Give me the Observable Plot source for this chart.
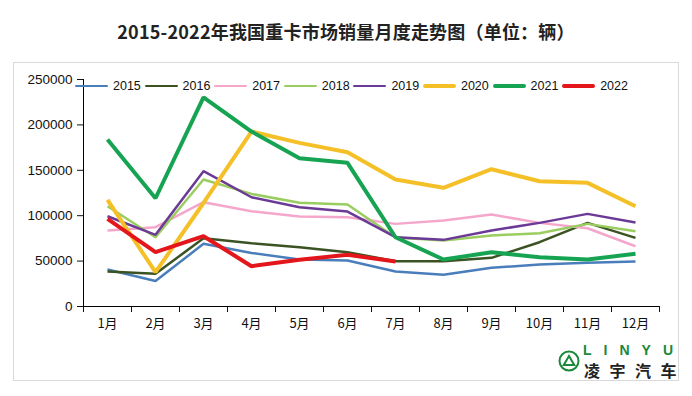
<!DOCTYPE html>
<html><head><meta charset="utf-8">
<script src="https://cdn.jsdelivr.net/npm/d3@7"></script>
<script src="https://cdn.jsdelivr.net/npm/@observablehq/plot@0.6"></script>
<style>
body{margin:0;background:#fff;width:692px;height:396px;overflow:hidden;font-family:"Liberation Sans","Noto Sans CJK SC",sans-serif;}
#title{height:62px;line-height:62px;text-align:center;font-family:"Noto Sans CJK SC",sans-serif;font-weight:bold;font-size:18px;color:#222;letter-spacing:0.2px;}
#wrap{position:relative;width:692px;height:334px;}
#frame{position:absolute;left:13px;top:0;width:664px;height:317px;border:1px solid #d9d9d9;box-sizing:content-box;}
#chart{position:absolute;left:0;top:0;}
#legend{position:absolute;left:75px;top:16px;height:16px;display:flex;}
.item{width:69.6px;display:flex;align-items:center;flex:none;}
.sw{width:33px;border-radius:2px;margin-right:5px;flex:none;}
.lb{font-size:12.5px;color:#111;font-family:"Liberation Sans",sans-serif;}
#logo{position:absolute;left:558px;top:282px;width:124px;height:36px;}
#logo .en{position:absolute;left:25px;top:-1px;font-family:"Liberation Sans",sans-serif;font-weight:bold;font-size:14px;letter-spacing:12px;color:#1a8a3a;line-height:14px;white-space:nowrap;}
#logo .cn{position:absolute;left:26px;top:18px;font-family:"Noto Sans CJK SC",sans-serif;font-weight:bold;font-size:16px;letter-spacing:9.5px;color:#222;line-height:16px;white-space:nowrap;}
#logo svg{position:absolute;left:0;top:6px;}
</style></head>
<body>
<div id="title">2015-2022年我国重卡市场销量月度走势图（单位：辆）</div>
<div id="wrap">
  <div id="frame"></div>
  <div id="chart"></div>
  <div id="legend"></div>
  <div id="logo">
    <svg width="22" height="22" viewBox="0 0 22 22"><circle cx="11" cy="11" r="9.5" fill="none" stroke="#1a8a3a" stroke-width="2"/><path d="M11 4 L18 16 L4 16 Z M11 8 L7.5 14 L14.5 14 Z" fill="#1a8a3a" fill-rule="evenodd"/></svg>
    <div class="en">LINYU</div>
    <div class="cn">凌宇汽车</div>
  </div>
</div>
<script>
const months = ["1月","2月","3月","4月","5月","6月","7月","8月","9月","10月","11月","12月"];
const years = ["2015","2016","2017","2018","2019","2020","2021","2022"];
const yTicks = [0, 50000, 100000, 150000, 200000, 250000];
const s2015 = [40700, 28000, 69000, 59000, 51700, 50600, 38500, 34900, 42600, 46200, 48100, 49500];
const s2016 = [38500, 36000, 75200, 69700, 65300, 59800, 49900, 49900, 53600, 70800, 92100, 75600];
const s2017 = [83700, 87300, 114900, 104900, 99100, 98400, 91000, 94700, 101300, 92100, 86200, 66400];
const s2018 = [110400, 76300, 139800, 124000, 114200, 112300, 76000, 72700, 78200, 80700, 91000, 82900];
const s2019 = [99400, 78900, 149000, 120300, 109300, 104600, 76300, 73400, 83700, 92100, 102000, 92500];
const s2020 = [117500, 37800, 114000, 192700, 180200, 169900, 139800, 130700, 151200, 138000, 136200, 110400];
const s2021 = [183900, 119200, 230400, 192700, 163300, 158200, 76300, 51700, 59800, 54300, 51700, 58000];
const s2022 = [96500, 59800, 77400, 44400, 51400, 56900, 49500];
const colors = ["#4a7ebb","#3b5323","#f4a7cb","#9acd5f","#6b3a96","#f5c027","#16a452","#e3161b"];
const widths = [2.5,2.5,2.5,2.5,2.5,4,4,4];

const series = [s2015,s2016,s2017,s2018,s2019,s2020,s2021,s2022];
const rows = [];
series.forEach((s, k) => s.forEach((v, i) => rows.push({year: years[k], m: i + 0.5, v})));

const lineMarks = years.map((yr, k) =>
  Plot.line(rows.filter(d => d.year === yr), {x: "m", y: "v", stroke: colors[k], strokeWidth: widths[k], strokeLinejoin: "miter", strokeLinecap: "butt"})
);

const chart = Plot.plot({
  width: 692, height: 334,
  marginTop: 17, marginBottom: 90, marginLeft: 83, marginRight: 33,
  style: {fontFamily: "Liberation Sans, Noto Sans CJK SC, sans-serif", fontSize: "13.5px", color: "#111", background: "transparent"},
  x: {type: "linear", domain: [0, 12]},
  y: {domain: [0, 250000]},
  marks: [
    Plot.axisY({ticks: yTicks, tickSize: 6, tickPadding: 5, tickFormat: d3.format("d"), label: null}),
    Plot.axisX({ticks: d3.range(months.length + 1), tickSize: 6, tickFormat: () => "", label: null}),
    Plot.axisX({ticks: months.map((m, i) => i + 0.5), tickSize: 0, tickPadding: 12, tickFormat: d => months[Math.floor(d)], label: null, fontSize: 13, fontFamily: "Noto Sans CJK SC"}),
    Plot.ruleX([0], {stroke: "#000"}),
    Plot.ruleY([0], {stroke: "#000"}),
    ...lineMarks
  ]
});
document.getElementById("chart").appendChild(chart);

const leg = document.getElementById("legend");
years.forEach((yr, k) => {
  const it = document.createElement("div"); it.className = "item";
  const sw = document.createElement("div"); sw.className = "sw";
  sw.style.height = widths[k] + "px"; sw.style.background = colors[k];
  const lb = document.createElement("span"); lb.className = "lb"; lb.textContent = yr;
  it.appendChild(sw); it.appendChild(lb); leg.appendChild(it);
});
</script>
</body></html>
